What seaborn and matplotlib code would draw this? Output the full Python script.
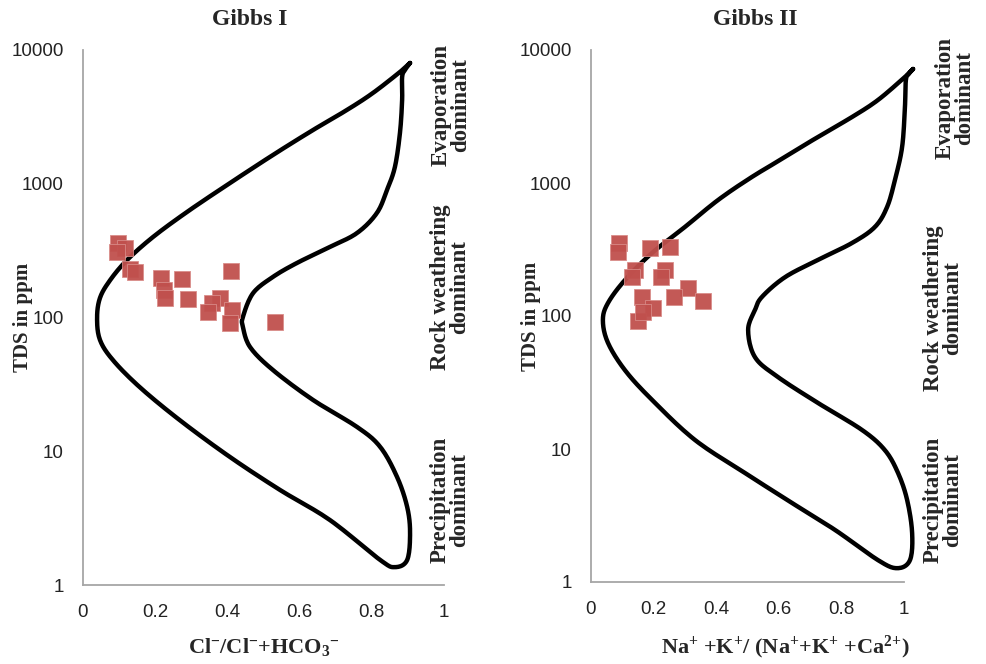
import numpy as np
import pandas as pd
import matplotlib
matplotlib.use("Agg")
import matplotlib.pyplot as plt
import seaborn as sns

# ---------------- data ----------------
# Gibbs I : Cl/(Cl+HCO3) vs TDS
g1_ratio = [0.097, 0.116, 0.094, 0.130, 0.144, 0.216, 0.224, 0.227, 0.274, 0.291,
            0.410, 0.380, 0.357, 0.346, 0.413, 0.407, 0.532]
g1_tds = [361, 331, 309, 231, 219, 197, 161, 140, 194, 137,
          223, 140, 128, 110, 114, 91, 92]

# Gibbs II : Na+K/(Na+K+Ca) vs TDS
g2_ratio = [0.089, 0.086, 0.188, 0.252, 0.141, 0.131, 0.236, 0.224, 0.310, 0.265,
            0.358, 0.163, 0.198, 0.150, 0.166]
g2_tds = [354, 303, 325, 330, 222, 196, 222, 196, 162, 139,
          130, 139, 115, 92, 107]

# Gibbs boomerang boundary (Gibbs I), traced vertices
b1_x = [0.906, 0.878, 0.803, 0.731, 0.637, 0.526, 0.399, 0.288, 0.194, 0.122, 0.075,
        0.047, 0.039, 0.047, 0.083, 0.158, 0.269, 0.407, 0.546, 0.684, 0.823, 0.864,
        0.898, 0.906, 0.898, 0.870, 0.823, 0.759, 0.637, 0.526, 0.463, 0.443, 0.443,
        0.471, 0.526, 0.593, 0.684, 0.759, 0.814, 0.842, 0.864, 0.878, 0.884, 0.884,
        0.892, 0.906]
b1_tds = [8000, 6850, 4770, 3560, 2520, 1640, 979, 615, 400, 269, 190,
          140, 99, 68, 48, 30, 17, 9.06, 5.13, 3.06, 1.54, 1.36,
          1.54, 2.45, 3.83, 6.42, 10.8, 15.2, 24.2, 40.5, 60, 85, 101,
          152, 201, 256, 337, 428, 604, 898, 1334, 2400, 4230, 6280,
          7100, 8000]

# Gibbs boomerang boundary (Gibbs II), traced vertices
b2_x = [1.029, 1.003, 0.917, 0.834, 0.725, 0.620, 0.514, 0.406, 0.300, 0.195, 0.109,
        0.054, 0.038, 0.054, 0.109, 0.195, 0.332, 0.492, 0.642, 0.780, 0.917, 0.978,
        1.019, 1.026, 1.010, 0.981, 0.939, 0.866, 0.725, 0.597, 0.524, 0.502, 0.524,
        0.546, 0.620, 0.725, 0.834, 0.907, 0.946, 0.971, 0.994, 1.003, 1.006, 1.015,
        1.029]
b2_tds = [7200, 6270, 4210, 3135, 2220, 1567, 1110, 745, 467, 298, 187,
          125, 93, 63, 39, 23.4, 11.7, 6.6, 3.93, 2.46, 1.46, 1.27,
          1.46, 2.33, 4.14, 6.6, 9.8, 13.9, 22.2, 34.8, 49, 78.5, 111,
          139, 196, 264, 354, 467, 660, 1054, 1866, 3725, 5945, 6600,
          7200]

y_ticks = [1, 10, 100, 1000, 10000]
y_ticklabels = ["1", "10", "100", "1000", "10000"]
x_ticks = [0, 0.2, 0.4, 0.6, 0.8, 1]
x_ticklabels = ["0", "0.2", "0.4", "0.6", "0.8", "1"]

titles = ["Gibbs I", "Gibbs II"]
xlabels = [r"Cl$^{-}$/Cl$^{-}$+HCO$_{3}$$^{-}$",
           r"Na$^{+}$ +K$^{+}$/ (Na$^{+}$+K$^{+}$ +Ca$^{2{+}}$)"]
ylabel = "TDS in ppm"
zone_labels = ["Evaporation\ndominant", "Rock weathering\ndominant", "Precipitation\ndominant"]


def smooth_outline(xs, ys, n=12):
    """Catmull-Rom rendering of a traced outline in (x, log10 y) space."""
    P = np.column_stack([np.asarray(xs, float), np.log10(np.asarray(ys, float))])
    P = np.vstack([P[0], P, P[-1]])
    out = []
    t = np.linspace(0, 1, n, endpoint=False)[:, None]
    for i in range(1, len(P) - 2):
        p0, p1, p2, p3 = P[i - 1], P[i], P[i + 1], P[i + 2]
        seg = 0.5 * ((2 * p1) + (-p0 + p2) * t + (2 * p0 - 5 * p1 + 4 * p2 - p3) * t ** 2
                     + (-p0 + 3 * p1 - 3 * p2 + p3) * t ** 3)
        out.append(seg)
    out.append(P[-2][None, :])
    out = np.vstack(out)
    return out[:, 0], 10 ** out[:, 1]


# ---------------- style ----------------
sns.set_theme(style="white")
plt.rcParams["font.family"] = ["Liberation Sans", "DejaVu Sans"]
plt.rcParams["mathtext.fontset"] = "custom"
plt.rcParams["mathtext.rm"] = "Liberation Serif:bold"
plt.rcParams["mathtext.it"] = "Liberation Serif:bold"
plt.rcParams["mathtext.bf"] = "Liberation Serif:bold"

serif = ["Liberation Serif", "DejaVu Serif"]
pt_color = "#C0504D"
spine_color = "#A6A6A6"

fig = plt.figure(figsize=(9.87, 6.64), dpi=100)
ax1 = fig.add_axes([83/987, 1-585/664, (444-83)/987, (585-50)/664])
ax2 = fig.add_axes([591/987, 1-582/664, (904-591)/987, (582-50)/664])

panels = [
    (ax1, g1_ratio, g1_tds, b1_x, b1_tds),
    (ax2, g2_ratio, g2_tds, b2_x, b2_tds),
]
xlabel_xy = [(0.50, (585-647)/535), (0.62, (582-647)/532)]
ylabel_x = [(23-83)/361, (531-591)/313]
title_x = [(250-83)/361, (755-591)/313]

for i, (ax, rx, ry, bx, by) in enumerate(panels):
    sx, sy = smooth_outline(bx, by)
    df_pts = pd.DataFrame({"ratio": rx, "TDS": ry})
    df_bnd = pd.DataFrame({"ratio": sx, "TDS": sy})
    ax.set_yscale("log")
    sns.lineplot(data=df_bnd, x="ratio", y="TDS", sort=False, estimator=None,
                 color="black", linewidth=3.2, ax=ax, clip_on=False,
                 solid_joinstyle="round", solid_capstyle="round", zorder=2)
    sns.scatterplot(data=df_pts, x="ratio", y="TDS", marker="s", s=125,
                    color=pt_color, edgecolor="#D98C89", linewidth=0.6,
                    alpha=0.95, ax=ax, zorder=3)
    ax.set_xlim(0, 1)
    ax.set_ylim(1, 10000)
    ax.set_xticks(x_ticks)
    ax.set_xticklabels(x_ticklabels)
    ax.set_yticks(y_ticks)
    ax.set_yticklabels(y_ticklabels)
    ax.minorticks_off()
    ax.tick_params(axis="both", length=0, labelsize=13.5, colors="#222222")
    ax.tick_params(axis="x", pad=14)
    ax.tick_params(axis="y", pad=14)
    for s in ["top", "right"]:
        ax.spines[s].set_visible(False)
    for s in ["left", "bottom"]:
        ax.spines[s].set_color(spine_color)
        ax.spines[s].set_linewidth(1.3)
    ax.set_title(titles[i], fontfamily=serif, fontweight="bold", fontsize=17,
                 x=title_x[i], y=1.0, pad=18)
    ax.set_xlabel(xlabels[i], fontfamily=serif, fontweight="bold", fontsize=16)
    ax.xaxis.label.set_va("center")
    ax.xaxis.set_label_coords(*xlabel_xy[i])
    ax.set_ylabel(ylabel, fontfamily=serif, fontweight="bold", fontsize=15)
    ax.yaxis.label.set_va("center")
    ax.yaxis.set_label_coords(ylabel_x[i], 0.5)
    ax.grid(False)

# zone labels at the right of each panel
zone_pos = [
    [(451, 105), (450, 287), (450, 500)],
    [(955, 98), (943, 308), (943, 500)],
]
for panel in zone_pos:
    for (px, py), lab in zip(panel, zone_labels):
        fig.text(px/987, 1-py/664, lab, rotation=90, ha="center", va="center",
                 fontfamily=serif, fontweight="bold", fontsize=16.5,
                 linespacing=0.92, multialignment="center")

fig.savefig("out.png", dpi=100)
